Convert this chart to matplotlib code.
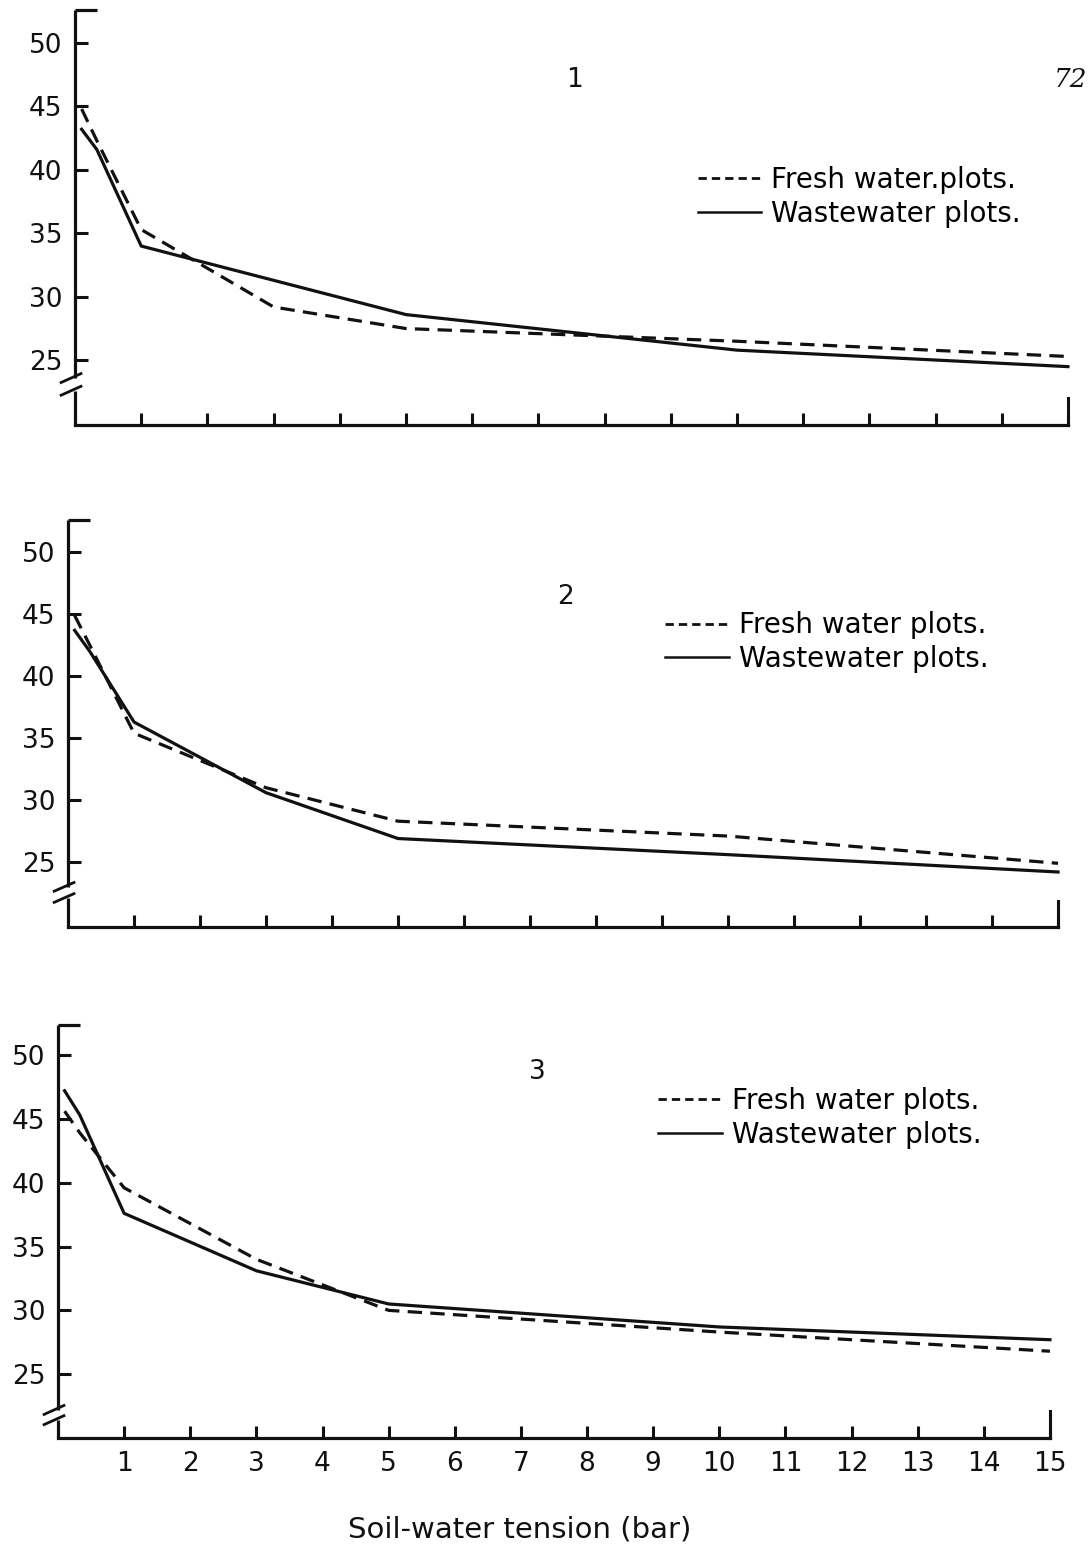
"""Soil moisture vs soil-water tension, three plots, fresh water vs wastewater.

Three stacked panels sharing the tension scale; only the bottom panel carries
x tick labels. Writes out.png.
"""

import matplotlib

matplotlib.use("Agg")
import matplotlib.pyplot as plt
from matplotlib.lines import Line2D

INK = "#111111"
LW = 2.3

# --- data ---
tension = [0.1, 0.33, 1, 3, 5, 10, 15]

fresh_1 = [44.8, 42.3, 35.3, 29.2, 27.5, 26.5, 25.3]
waste_1 = [43.2, 41.6, 34.0, 31.3, 28.6, 25.8, 24.5]

fresh_2 = [44.9, 42.5, 35.4, 31.0, 28.3, 27.1, 24.9]
waste_2 = [43.7, 42.0, 36.3, 30.6, 26.9, 25.6, 24.2]

fresh_3 = [45.6, 43.9, 39.6, 34.0, 30.0, 28.3, 26.8]
waste_3 = [47.2, 45.3, 37.6, 33.1, 30.5, 28.7, 27.7]

y_ticks = [25, 30, 35, 40, 45, 50]
x_ticks = list(range(1, 16))
panel_names = ["1", "2", "3"]
fresh_labels = ["Fresh water.plots.", "Fresh water plots.", "Fresh water plots."]
waste_label = "Wastewater plots."

plt.rcParams["font.family"] = "DejaVu Sans"

fig = plt.figure(figsize=(10.92, 15.58), dpi=100, facecolor="white")

# layout per panel: axes rect, y limits, axis-break span, legend anchor, name pos
panels = [
    dict(rect=(0.0687, 0.7272, 0.9093, 0.2664), ylim=(19.9, 52.6),
         brk=(22.6, 23.6), leg=(0.627, 0.55), name=(0.503, 0.831),
         fresh=fresh_1, waste=waste_1),
    dict(rect=(0.0623, 0.4050, 0.9066, 0.2612), ylim=(19.76, 52.6),
         brk=(22.1, 23.0), leg=(0.603, 0.70), name=(0.502, 0.811),
         fresh=fresh_2, waste=waste_2),
    dict(rect=(0.0531, 0.0770, 0.9084, 0.2651), ylim=(20.0, 52.35),
         brk=(21.4, 22.2), leg=(0.605, 0.775), name=(0.483, 0.886),
         fresh=fresh_3, waste=waste_3),
]

for i, p in enumerate(panels):
    ax = fig.add_axes(p["rect"])
    ax.set_facecolor("white")
    ax.plot(tension, p["fresh"], color=INK, lw=LW, ls=(0, (4.5, 2.6)),
            solid_capstyle="butt", clip_on=False)
    ax.plot(tension, p["waste"], color=INK, lw=LW, ls="-", clip_on=False)

    ylo, yhi = p["ylim"]
    ax.set_xlim(0, 15)
    ax.set_ylim(ylo, yhi)

    for s in ("top", "right", "left"):
        ax.spines[s].set_visible(False)
    ax.spines["bottom"].set_linewidth(LW)
    ax.spines["bottom"].set_color(INK)

    ax.set_yticks(y_ticks)
    ax.set_xticks(x_ticks)
    if i < 2:
        ax.set_xticklabels([])
    ax.tick_params(axis="both", direction="in", length=9, width=2.2,
                   color=INK, labelcolor=INK, labelsize=19)
    ax.tick_params(axis="y", pad=9)
    ax.tick_params(axis="x", pad=9)

    # hand-drawn style left axis: bracket at top, break mark below 25
    ty = ax.get_yaxis_transform()
    b_lo, b_hi = p["brk"]
    kw = dict(color=INK, lw=LW, transform=ty, clip_on=False,
              solid_capstyle="butt")
    ax.plot([0, 0], [yhi, b_hi], **kw)
    ax.plot([0, 0], [b_lo, ylo], **kw)
    ax.plot([0, 0.022], [yhi, yhi], **kw)
    for yb in (b_lo, b_hi):
        ax.plot([-0.014, 0.006], [yb - 0.35, yb + 0.35], color=INK, lw=2.0,
                transform=ty, clip_on=False)

    # taller end tick at 15 bar
    tx = ax.get_xaxis_transform()
    ax.plot([15, 15], [0, 0.065], color=INK, lw=2.2, transform=tx,
            clip_on=False)

    handles = [
        Line2D([], [], color=INK, lw=2.0, ls=(0, (3, 1.8))),
        Line2D([], [], color=INK, lw=1.8, ls="-"),
    ]
    ax.legend(handles, [fresh_labels[i], waste_label], loc="center left",
              bbox_to_anchor=p["leg"], frameon=False, fontsize=20,
              handlelength=2.3, handletextpad=0.35, labelspacing=0.2,
              borderpad=0, borderaxespad=0)

    ax.text(p["name"][0], p["name"][1], panel_names[i], transform=ax.transAxes,
            ha="center", va="center", fontsize=19, color=INK)

fig.text(0.98, 0.949, "72", ha="center", va="center", fontsize=19,
         family="DejaVu Serif", style="italic", color=INK)
fig.text(0.476, 0.018, "Soil-water tension (bar)", ha="center", va="center",
         fontsize=21, color=INK)

fig.savefig("out.png", dpi=100, facecolor="white")
